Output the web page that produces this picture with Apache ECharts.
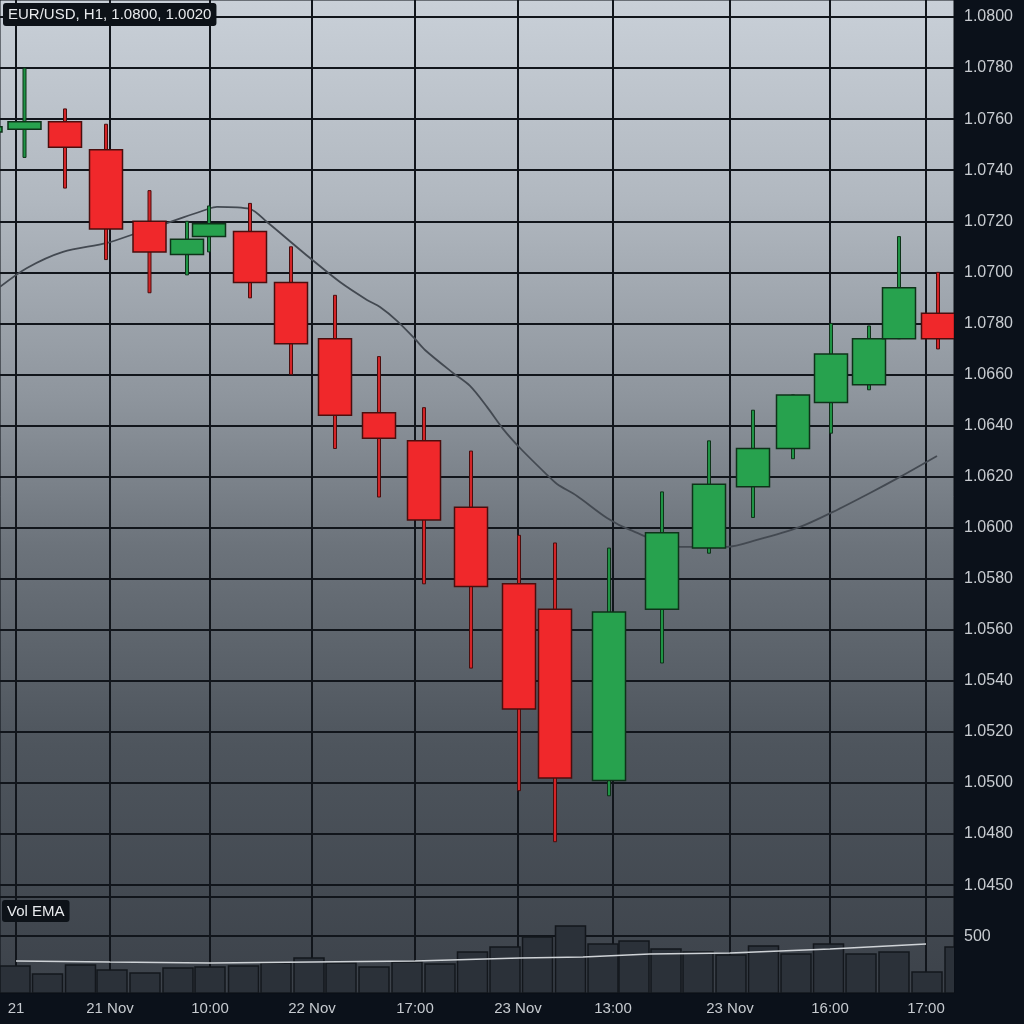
<!DOCTYPE html>
<html><head><meta charset="utf-8">
<script src="https://cdn.jsdelivr.net/npm/echarts@6/dist/echarts.min.js"></script>
<style>html,body{margin:0;padding:0;background:#0b111a;}#c{width:1024px;height:1024px;}</style>
</head><body><div id="c"></div>
<script>
// ---- data ----
const candleX = [-14.5, 24.5, 65, 106, 149.5, 187, 209, 250, 291, 335, 379, 424, 471, 519, 555, 609, 662, 709, 753, 793, 831, 869, 899, 938];
const openP  = [1.0755, 1.0756, 1.0759, 1.0748, 1.0720, 1.0707, 1.0714, 1.0716, 1.0696, 1.0674, 1.0645, 1.0634, 1.0608, 1.0578, 1.0568, 1.0501, 1.0568, 1.0592, 1.0616, 1.0631, 1.0649, 1.0656, 1.0674, 1.0684];
const closeP = [1.0757, 1.0759, 1.0749, 1.0717, 1.0708, 1.0713, 1.0719, 1.0696, 1.0672, 1.0644, 1.0635, 1.0603, 1.0577, 1.0529, 1.0502, 1.0567, 1.0598, 1.0617, 1.0631, 1.0652, 1.0668, 1.0674, 1.0694, 1.0674];
const lowP   = [1.0750, 1.0745, 1.0733, 1.0705, 1.0692, 1.0699, 1.0708, 1.0690, 1.0660, 1.0631, 1.0612, 1.0578, 1.0545, 1.0497, 1.0477, 1.0495, 1.0547, 1.0590, 1.0604, 1.0627, 1.0637, 1.0654, 1.0674, 1.0670];
const highP  = [1.0762, 1.0780, 1.0764, 1.0758, 1.0732, 1.0720, 1.0726, 1.0727, 1.0710, 1.0691, 1.0667, 1.0647, 1.0630, 1.0597, 1.0594, 1.0592, 1.0614, 1.0634, 1.0646, 1.0652, 1.0680, 1.0679, 1.0714, 1.0700];

const emaX = [0, 27, 63, 107, 137, 167, 208, 217, 250, 267, 310, 340, 367, 380, 397, 415, 425, 453, 470, 487, 503, 520, 547, 557, 577, 607, 630, 680, 727, 757, 800, 833, 870, 900, 937];
const emaP = [1.06943, 1.07017, 1.07080, 1.07115, 1.07154, 1.07193, 1.07248, 1.07256, 1.07248, 1.07197, 1.07056, 1.06962, 1.06892, 1.06864, 1.06810, 1.06739, 1.06696, 1.06606, 1.06555, 1.06473, 1.06387, 1.06312, 1.06207, 1.06171, 1.06124, 1.06038, 1.05991, 1.05925, 1.05925, 1.05952, 1.06003, 1.06062, 1.06136, 1.06199, 1.06281];

const volX = [15, 47.5, 80.5, 112, 145, 178, 210, 243.5, 276, 309, 341, 374, 407, 440, 472.5, 505, 537.5, 570.5, 603, 634, 666, 698, 731, 763.5, 796, 828.5, 861, 894, 927, 960];
const volume = [241, 170, 250, 205, 179, 223, 232, 241, 268, 313, 268, 232, 277, 259, 366, 411, 500, 598, 438, 464, 393, 366, 339, 420, 348, 438, 348, 366, 188, 411];

const volEmaX = [16, 110, 210, 312, 415, 520, 583, 650, 730, 830, 926];
const volEma  = [286, 277, 268, 277, 286, 313, 321, 348, 357, 393, 438];

const priceTicks = [1.080, 1.078, 1.076, 1.074, 1.072, 1.070, 1.068, 1.066, 1.064, 1.062, 1.060, 1.058, 1.056, 1.054, 1.052, 1.050, 1.048, 1.046, 1.04554, 1.044];
const priceTickLabels = ['1.0800', '1.0780', '1.0760', '1.0740', '1.0720', '1.0700', '1.0780', '1.0660', '1.0640', '1.0620', '1.0600', '1.0580', '1.0560', '1.0540', '1.0520', '1.0500', '1.0480', '1.0450', '', ''];
const timeTicks = [16, 110, 210, 312, 415, 518, 613, 730, 830, 926];
const timeLabels = ['21', '21 Nov', '10:00', '22 Nov', '17:00', '23 Nov', '13:00', '23 Nov', '16:00', '17:00'];
const volTicks = [500];
const volTickLabels = ['500'];

// ---- chart ----
const FONT = '"Liberation Sans", Arial, sans-serif';
const RF = '#f0282b', RS = '#4a0e0e', RW = '#d42427';
const GF = '#27a24e', GS = '#0e3219', GW = '#1f9445';

const candleData = candleX.map((x, i) => [x, openP[i], closeP[i], lowP[i], highP[i]]);
const volData = volX.map((x, i) => [x, volume[i]]);

function renderCandle(params, api) {
  const x = api.value(0), o = api.value(1), c = api.value(2), l = api.value(3), h = api.value(4);
  const top = api.coord([x, Math.max(o, c)]);
  const bot = api.coord([x, Math.min(o, c)]);
  const hi = api.coord([x, h]);
  const lo = api.coord([x, l]);
  const up = c >= o;
  const bw = 33, ww = 3;
  return {
    type: 'group',
    children: [
      { type: 'rect', shape: { x: top[0] - ww / 2, y: hi[1], width: ww, height: lo[1] - hi[1] },
        style: { fill: up ? GW : RW, stroke: up ? GS : RS, lineWidth: 1 } },
      { type: 'rect', shape: { x: top[0] - bw / 2, y: top[1], width: bw, height: Math.max(bot[1] - top[1], 1) },
        style: { fill: up ? GF : RF, stroke: up ? GS : RS, lineWidth: 1.5 } }
    ]
  };
}

function renderVol(params, api) {
  const x = api.value(0), v = api.value(1);
  const topPt = api.coord([x, v]);
  const basePt = api.coord([x, 0]);
  const bw = 30;
  return {
    type: 'rect',
    shape: { x: topPt[0] - bw / 2, y: topPt[1], width: bw, height: basePt[1] - topPt[1] },
    style: { fill: '#2b3139', stroke: '#13171c', lineWidth: 1.5 }
  };
}

function labelFor(ticks, labels) {
  return function (v) {
    for (let i = 0; i < ticks.length; i++) if (Math.abs(ticks[i] - v) < 1e-6) return labels[i];
    return '';
  };
}

const chart = echarts.init(document.getElementById('c'), null, { renderer: 'canvas' });
chart.setOption({
  animation: false,
  backgroundColor: '#0b111a',
  textStyle: { fontFamily: FONT },
  title: [
    { text: 'EUR/USD, H1, 1.0800, 1.0020', left: 3, top: 3, padding: [4, 5, 4, 5], backgroundColor: '#0d1218', borderRadius: 3,
      textStyle: { color: '#e8eaed', fontSize: 15, fontWeight: 'normal', fontFamily: FONT } },
    { text: 'Vol EMA', left: 2, top: 900, padding: [4, 5, 3, 5], backgroundColor: '#0d1218', borderRadius: 3,
      textStyle: { color: '#e8eaed', fontSize: 15, fontWeight: 'normal', fontFamily: FONT } }
  ],
  grid: {
    left: 0, right: 70, top: 0, bottom: 31, show: true, borderWidth: 1, borderColor: '#0b0f14',
    backgroundColor: new echarts.graphic.LinearGradient(0, 0, 0, 1, [
      { offset: 0, color: '#c9d0d8' },
      { offset: 0.2, color: '#b1b8c0' },
      { offset: 0.4, color: '#8e959d' },
      { offset: 0.55, color: '#6c737b' },
      { offset: 0.75, color: '#4e555d' },
      { offset: 1, color: '#3c424a' }
    ])
  },
  xAxis: {
    type: 'value', min: 0, max: 954,
    axisLine: { show: false },
    axisTick: { show: false, customValues: timeTicks },
    splitLine: { show: true, lineStyle: { color: '#11151b', width: 2 } },
    axisLabel: { customValues: timeTicks, formatter: labelFor(timeTicks, timeLabels), color: '#c6cacf', fontSize: 15, margin: 8, fontFamily: FONT }
  },
  yAxis: [
    {
      type: 'value', position: 'right', min: 1.041775, max: 1.080666,
      axisLine: { show: false },
      axisTick: { show: false, customValues: priceTicks },
      splitLine: { show: true, lineStyle: { color: '#11151b', width: 2 } },
      axisLabel: { customValues: priceTicks, formatter: labelFor(priceTicks, priceTickLabels), color: '#c8ccd1', fontSize: 16, margin: 10, fontFamily: FONT }
    },
    {
      type: 'value', position: 'right', min: 0, max: 8866,
      axisLine: { show: false },
      axisTick: { show: false, customValues: volTicks },
      splitLine: { show: false },
      axisLabel: { customValues: volTicks, formatter: labelFor(volTicks, volTickLabels), color: '#c8ccd1', fontSize: 16, margin: 10, fontFamily: FONT }
    }
  ],
  series: [
    { type: 'custom', yAxisIndex: 1, data: volData, renderItem: renderVol, clip: true,
      encode: { x: 0, y: 1 }, z: 2 },
    { type: 'line', yAxisIndex: 1, data: volEmaX.map((x, i) => [x, volEma[i]]), symbol: 'none',
      lineStyle: { color: '#cfd3d7', width: 1.5 }, z: 3 },
    { type: 'line', data: emaX.map((x, i) => [x, emaP[i]]), symbol: 'none', smooth: 0.3,
      lineStyle: { color: '#434951', width: 1.8 }, z: 3 },
    { type: 'custom', data: candleData, renderItem: renderCandle, clip: true,
      encode: { x: 0, y: [1, 2, 3, 4] }, z: 4 }
  ]
});
</script>
</body></html>
